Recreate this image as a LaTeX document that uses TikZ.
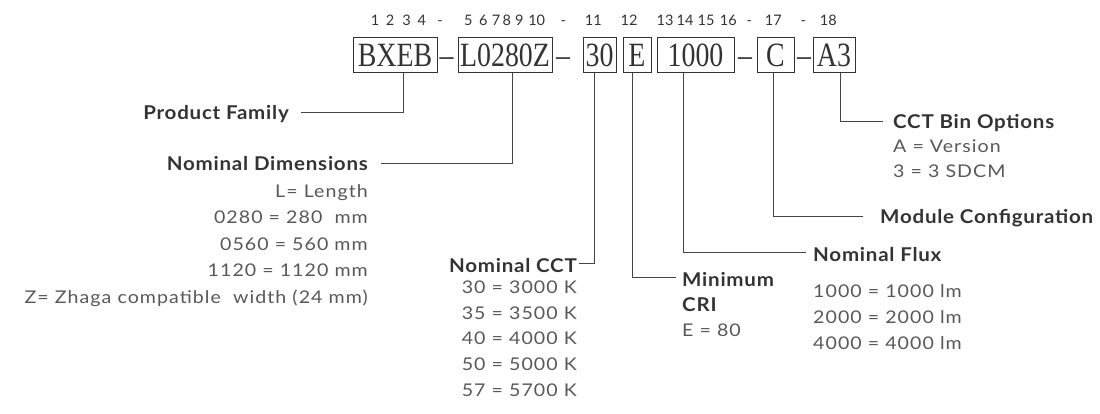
\documentclass[tikz,border=0pt]{standalone}
\usepackage{fontspec}
\setmainfont{Liberation Serif}
\newfontfamily\lblhead[FakeStretch=1.08,LetterSpace=4]{Lato}
\newfontfamily\lblval[FakeStretch=1.12,LetterSpace=6]{Lato}
\newfontfamily\lbldig{Lato}
\usepackage{graphicx}
\definecolor{txtdark}{HTML}{333333}
\definecolor{txtval}{HTML}{585858}
\definecolor{linec}{HTML}{444444}
\begin{document}
\begin{tikzpicture}[x=1pt,y=-1pt,
  bx/.style={draw=txtdark,line width=1pt,inner sep=0pt,minimum height=35pt,text height=23pt,text depth=0pt,font=\fontsize{34}{34}\selectfont,text=txtdark},
  dsh/.style={inner sep=0pt,font=\fontsize{34}{34}\selectfont,text=txtdark,anchor=base},
  dig/.style={inner sep=0pt,font=\lbldig\fontsize{14.5}{16}\selectfont,text=txtdark,anchor=base},
  head/.style={inner sep=0pt,font=\lblhead\bfseries\fontsize{19}{22}\selectfont,text=txtdark,text height=13.6pt,text depth=0pt},
  val/.style={inner sep=0pt,font=\lblval\fontsize{17.5}{20}\selectfont,text=txtval},
  conn/.style={draw=linec,line width=1pt}]
\path[use as bounding box] (0,0) rectangle (1100,413);

% digit row
\foreach \x/\t [count=\i] in {375/1,390/2,406.7/3,421.7/4,440/-,468.3/5,483.3/6,496/7,506.7/8,519.3/9,536.7/10,563.3/-,593.3/11,629/12,665/13,685/14,706/15,728.3/16,749.3/-,773.3/17,803.3/-,828.3/18}
  \node[dig] (n\i) at (\x,25.5) {\t};

% code boxes
\node[bx,minimum width=84pt] (b1) at (395,54.5) {\scalebox{0.82}[1]{BXEB}};
\node[dsh] (d1) at (446.7,66) {\scalebox{0.82}[1]{–}};
\node[bx,minimum width=94pt] (b2) at (505,54.5) {\scalebox{0.82}[1]{L0280Z}};
\node[dsh] (d2) at (563,66) {\scalebox{0.82}[1]{–}};
\node[bx,minimum width=33pt] (b3) at (599.5,54.5) {\scalebox{0.82}[1]{30}};
\node[bx,minimum width=28pt] (b4) at (637,54.5) {\scalebox{0.82}[1]{E}};
\node[bx,minimum width=77pt] (b5) at (695.5,54.5) {\scalebox{0.82}[1]{1000}};
\node[dsh] (d3) at (745,66) {\scalebox{0.82}[1]{–}};
\node[bx,minimum width=37pt] (b6) at (775.5,54.5) {\scalebox{0.82}[1]{C}};
\node[dsh] (d4) at (804,66) {\scalebox{0.82}[1]{–}};
\node[bx,minimum width=42pt] (b7) at (834,54.5) {\scalebox{0.82}[1]{A3}};

% Product Family
\node[head,anchor=base east] (pf) at (289,119) {Product Family};

% Nominal Dimensions
\node[head,anchor=base east] (nd) at (368,170) {Nominal Dimensions};
\node[val,anchor=base east] (nd1) at (368,197.3) {L= Length};
\node[val,anchor=base east] (nd2) at (368,223.3) {0280 = 280\ \ mm};
\node[val,anchor=base east] (nd3) at (368,250) {0560 = 560 mm};
\node[val,anchor=base east] (nd4) at (368,276.7) {1120 = 1120 mm};
\node[val,anchor=base east] (nd5) at (368,303.3) {Z= Zhaga compatible\ \ width (24 mm)};

% Nominal CCT
\node[head,anchor=base east] (cct) at (577,272) {Nominal CCT};
\node[val,anchor=base east] (cct1) at (577,293.5) {30 = 3000 K};
\node[val,anchor=base east] (cct2) at (577,319) {35 = 3500 K};
\node[val,anchor=base east] (cct3) at (577,344.5) {40 = 4000 K};
\node[val,anchor=base east] (cct4) at (577,370.5) {50 = 5000 K};
\node[val,anchor=base east] (cct5) at (577,396.5) {57 = 5700 K};

% Minimum CRI
\node[head,anchor=base west] (mc) at (682,286) {Minimum};
\node[head,anchor=base west] (mc2) at (682,311.7) {CRI};
\node[val,anchor=base west] (mcv) at (682,336) {E = 80};

% Nominal Flux
\node[head,anchor=base west] (nf) at (813,261) {Nominal Flux};
\node[val,anchor=base west] (nf1) at (813,297.5) {1000 = 1000 lm};
\node[val,anchor=base west] (nf2) at (813,323.5) {2000 = 2000 lm};
\node[val,anchor=base west] (nf3) at (813,349.5) {4000 = 4000 lm};

% Module Configuration
\node[head,anchor=base west] (mcf) at (880,223) {Module Configuration};

% CCT Bin Options
\node[head,anchor=base west] (cbo) at (893,128.3) {CCT Bin Options};
\node[val,anchor=base west] (cbo1) at (893,152.7) {A = Version};
\node[val,anchor=base west] (cbo2) at (893,177) {3 = 3 SDCM};

% connectors
\draw[conn] ([xshift=8pt]b1.south) |- ([xshift=12pt]pf.east);
\draw[conn] ([xshift=7pt]b2.south) |- ([xshift=13pt]nd.east);
\draw[conn] ([xshift=-5.5pt]b3.south) |- ([xshift=2pt,yshift=1.5pt]cct.east);
\draw[conn] ([xshift=-5pt]b4.south) |- ([xshift=-6pt,yshift=2pt]mc.west);
\draw[conn] ([xshift=-12.5pt]b5.south) |- ([xshift=-7pt,yshift=2pt]nf.west);
\draw[conn] ([xshift=-2.5pt]b6.south) |- ([xshift=-17pt]mcf.west);
\draw[conn] ([xshift=6pt]b7.south) |- ([xshift=-10pt]cbo.west);
\end{tikzpicture}
\end{document}
